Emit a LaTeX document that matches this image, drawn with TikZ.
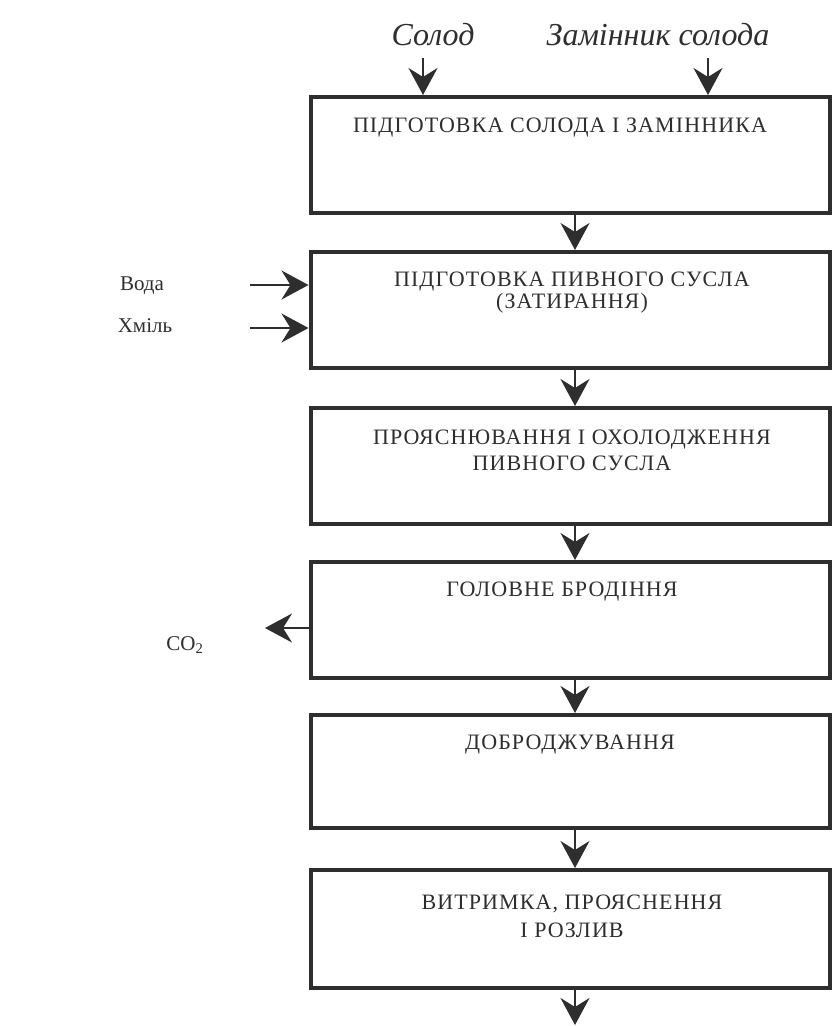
\documentclass[tikz,border=0pt]{standalone}
\usepackage{fontspec}
\setmainfont{Liberation Serif}
\usetikzlibrary{arrows.meta}
\definecolor{ink}{HTML}{2E2E2E}
\newcommand{\boxfont}[1]{\fontsize{22}{#1}\selectfont\addfontfeature{LetterSpace=5}}
\begin{document}
\begin{tikzpicture}[x=1pt,y=-1pt,
  box/.style={draw=ink,line width=4pt,minimum width=519pt,inner sep=0pt},
  lbl/.style={text=ink,align=center,inner sep=0pt,font=\boxfont{22}},
  side/.style={text=ink,inner sep=0pt,font=\fontsize{21}{22}\selectfont},
  ital/.style={text=ink,inner sep=0pt,font=\fontsize{32}{34}\selectfont\itshape},
  arr/.style={draw=ink,line width=2pt,-{Stealth[length=27pt,width=29pt,inset=9pt]}}]
\useasboundingbox[fill=white] (0,0) rectangle (832,1026);

% boxes
\node[box,minimum height=116pt] (b1) at (570,155) {};
\node[box,minimum height=116pt] (b2) at (570,310) {};
\node[box,minimum height=116pt] (b3) at (570,466) {};
\node[box,minimum height=116pt] (b4) at (570,620) {};
\node[box,minimum height=113pt] (b5) at (570,771.5) {};
\node[box,minimum height=118pt] (b6) at (570,929) {};

% box texts
\node[lbl] (t1) at (560,128) {ПІДГОТОВКА СОЛОДА І ЗАМІННИКА};
\node[lbl,font=\boxfont{22}] (t2) at (572,293) {ПІДГОТОВКА ПИВНОГО СУСЛА\\(ЗАТИРАННЯ)};
\node[lbl,font=\boxfont{26}] (t3) at (572,450) {ПРОЯСНЮВАННЯ І ОХОЛОДЖЕННЯ\\ПИВНОГО СУСЛА};
\node[lbl] (t4) at (562,592) {ГОЛОВНЕ БРОДІННЯ};
\node[lbl] (t5) at (570,745) {ДОБРОДЖУВАННЯ};
\node[lbl,font=\boxfont{28}] (t6) at (572,916) {ВИТРИМКА, ПРОЯСНЕННЯ\\І РОЗЛИВ};

% top inputs
\node[ital] (solod) at (433,35) {Солод};
\node[ital] (zam) at (658,35) {Замінник солода};
\coordinate (s1) at (423,58);
\coordinate (s2) at (708,58);
\draw[arr] (s1) -- (s1 |- b1.north);
\draw[arr] (s2) -- (s2 |- b1.north);

% side inputs
\node[side] (voda) at (142,286) {Вода};
\node[side] (hmil) at (145,326) {Хміль};
\coordinate (v1) at (250,285);
\coordinate (h1) at (250,328);
\draw[arr] (v1) -- (v1 -| b2.west);
\draw[arr] (h1) -- (h1 -| b2.west);

% CO2 output
\node[side] (co2) at (185,645) {CO\textsubscript{2}};
\coordinate (c1) at (265,628);
\draw[arr] (c1 -| b4.west) -- (c1);

% flow arrows
\draw[arr] ([xshift=5pt]b1.south) -- ([xshift=5pt]b2.north);
\draw[arr] ([xshift=5pt]b2.south) -- ([xshift=5pt]b3.north);
\draw[arr] ([xshift=5pt]b3.south) -- ([xshift=5pt]b4.north);
\draw[arr] ([xshift=5pt]b4.south) -- ([xshift=5pt]b5.north);
\draw[arr] ([xshift=5pt]b5.south) -- ([xshift=5pt]b6.north);
\coordinate (end) at (575,1025);
\draw[arr] ([xshift=5pt]b6.south) -- (end);
\end{tikzpicture}
\end{document}
